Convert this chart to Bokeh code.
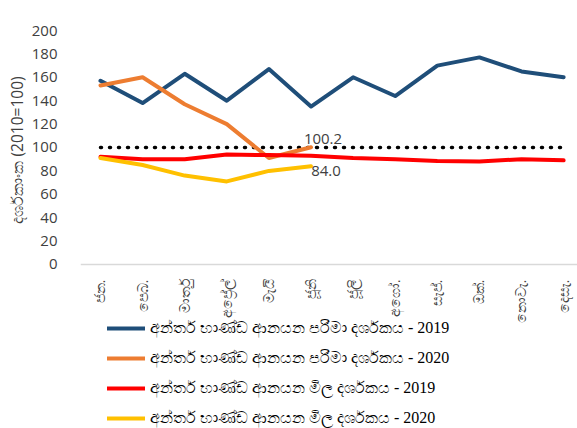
import math
from bokeh.plotting import figure
from bokeh.models import Range1d, FixedTicker, Legend, LegendItem, Title
from bokeh.core.properties import value
from bokeh.embed import file_html
from bokeh.resources import INLINE

months = ["ජන.", "පෙබ.", "මාර්තු", "අප්‍රේල්", "මැයි", "ජූනි", "ජූලි", "අගෝ.", "සැප්.", "ඔක්.", "නොවැ.", "දෙසැ."]
vol_2019 = [157, 138, 163, 140, 167, 135, 160, 144, 170, 177, 165, 160]
vol_2020 = [153, 160, 137, 120, 91, 100.2]
price_2019 = [92, 90, 90, 94, 93.5, 93, 91, 90, 88.5, 88, 90, 89]
price_2020 = [91, 85, 76, 71, 80, 84.0]
base_line = [100] * 12

names = [
    "අන්තර් භාණ්ඩ ආනයන පරිමා දර්ශකය - 2019",
    "අන්තර් භාණ්ඩ ආනයන පරිමා දර්ශකය - 2020",
    "අන්තර් භාණ්ඩ ආනයන මිල දර්ශකය - 2019",
    "අන්තර් භාණ්ඩ ආනයන මිල දර්ශකය - 2020",
]
colors = ["#1F4E79", "#ED7D31", "#FF0000", "#FFC000"]
y_title = "දර්ශකාංක (2010=100)"

xs = list(range(12))

# frame spans the whole lower area; y=0 sits on the x-axis, legend under it
p = figure(width=577, height=428, output_backend="svg", toolbar_location=None,
           x_range=Range1d(-0.475, 11.33), y_range=Range1d(-140.2, 200),
           min_border_left=80, min_border_top=30, min_border_right=0, min_border_bottom=0)
p.outline_line_color = None
p.xgrid.grid_line_color = None
p.ygrid.grid_line_color = None

p.line(xs, base_line, line_color="black", line_width=3.5, line_dash="1 8", line_cap="round")

style = dict(line_width=4, line_cap="round", line_join="round")
r1 = p.line(xs, vol_2019, line_color=colors[0], **style)
r2 = p.line(xs[:len(vol_2020)], vol_2020, line_color=colors[1], **style)
r3 = p.line(xs, price_2019, line_color=colors[2], **style)
r4 = p.line(xs[:len(price_2020)], price_2020, line_color=colors[3], **style)

p.text([xs[5]], [vol_2020[-1]], text=["%.1f" % vol_2020[-1]], text_align="center",
       text_baseline="bottom", x_offset=12, y_offset=-3, text_font=value("Open Sans"),
       text_font_size="15px", text_color="#404040")
p.text([xs[5]], [price_2020[-1]], text=["%.1f" % price_2020[-1]], text_align="center",
       text_baseline="top", x_offset=15, y_offset=0, text_font=value("Open Sans"),
       text_font_size="15px", text_color="#404040")

p.xaxis.fixed_location = 0
p.xaxis.ticker = FixedTicker(ticks=xs)
p.xaxis.major_label_overrides = {i: m for i, m in enumerate(months)}
p.xaxis.major_label_orientation = math.pi / 2
p.xaxis.major_tick_line_color = None
p.xaxis.minor_tick_line_color = None
p.xaxis.axis_line_color = "#D9D9D9"
p.xaxis.axis_line_width = 1.5
p.xaxis.major_label_text_font_size = "14px"
p.xaxis.major_label_text_color = "#404040"
p.xaxis.major_label_standoff = 9

p.yaxis.ticker = FixedTicker(ticks=list(range(0, 201, 20)))
p.yaxis.axis_line_color = None
p.yaxis.major_tick_line_color = None
p.yaxis.minor_tick_line_color = None
p.yaxis.major_label_text_font = "Open Sans"
p.yaxis.major_label_text_font_size = "15px"
p.yaxis.major_label_text_color = "#404040"
p.yaxis.major_label_standoff = 17

yt = Title(text=y_title, align="left", offset=205, text_font="Open Sans",
           text_font_style="normal", text_font_size="15.5px", text_color="#404040",
           standoff=2)
p.add_layout(yt, "left")

legend = Legend(items=[LegendItem(label=n, renderers=[r]) for n, r in zip(names, [r1, r2, r3, r4])],
                orientation="vertical", location=(27, 0))
legend.border_line_color = None
legend.background_fill_alpha = 0
legend.label_text_font = "Liberation Serif"
legend.label_text_font_size = "16px"
legend.label_text_color = "#000000"
legend.glyph_width = 38
legend.glyph_height = 20
legend.label_height = 20
legend.label_standoff = 5
legend.spacing = 10
legend.padding = 0
legend.margin = 0
p.add_layout(legend)

open("out.html", "w").write(file_html(p, INLINE))
